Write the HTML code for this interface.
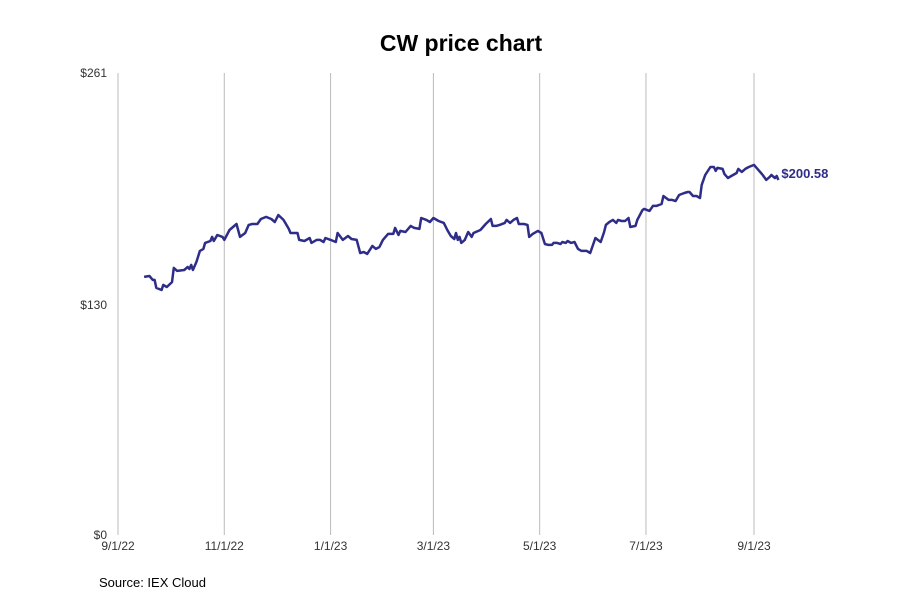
<!DOCTYPE html>
<html><head><meta charset="utf-8"><style>
body{margin:0;background:#fff;}
svg text{font-family:"Liberation Sans","DejaVu Sans",sans-serif;}
</style></head><body>
<svg id="chart" width="900" height="600" xmlns="http://www.w3.org/2000/svg">
<text x="461" y="51" text-anchor="middle" font-size="23" font-weight="bold" fill="#000">CW price chart</text>
<g id="grid"></g><g id="axes"></g><g id="series"></g>
<text x="99" y="587" font-size="13" fill="#000">Source: IEX Cloud</text>
</svg>
<script>
const tickDays=[0,61,122,181,242,303,365];
const tickLabels=["9/1/22","11/1/22","1/1/23","3/1/23","5/1/23","7/1/23","9/1/23"];
const yTicks=[0,130,261];
const yTickLabels=["$0","$130","$261"];
const days=[15,18,20,21,22,25,26,28,31,32,34,38,40,41,42,43,45,47,49,50,53,54,55,57,60,61,64,68,70,73,75,77,80,82,85,88,90,92,95,98,99,103,104,107,110,111,114,116,118,119,122,125,126,129,132,134,137,139,141,143,146,148,150,152,155,158,159,161,162,165,166,168,170,173,174,177,179,181,184,187,189,191,193,194,195,196,197,199,201,203,204,208,211,214,215,217,219,222,223,225,227,229,230,233,235,236,238,241,243,245,247,249,250,252,254,255,257,258,260,262,264,266,269,271,274,277,279,280,282,284,286,287,289,291,293,294,297,298,301,302,305,307,309,312,313,316,318,320,322,325,327,328,330,332,334,335,337,340,342,343,344,347,348,350,352,355,356,358,360,362,365,367,370,372,374,375,377,378,379];
const prices=[145.8,146.3,144.1,144.1,139.6,138.4,141.3,140.1,142.9,150.9,149.2,149.7,151.4,150.3,152.6,149.7,154.2,160.5,161.6,165.0,166.1,168.4,166.1,169.5,168.4,166.7,172.3,175.7,168.4,170.6,175.2,175.7,175.7,178.5,179.7,178.5,176.8,180.8,178.0,172.9,170.6,170.6,166.7,166.1,167.8,165.0,166.7,166.7,165.5,167.8,166.7,165.5,170.6,166.7,168.9,167.2,166.7,159.3,159.9,158.8,163.3,161.6,162.7,166.7,170.1,170.1,173.5,169.5,171.8,171.2,172.3,174.6,173.5,172.9,179.1,178.0,176.8,179.1,177.4,176.3,172.3,168.9,167.2,170.6,166.7,168.4,165.0,166.7,171.2,168.4,170.6,172.3,175.7,178.5,174.6,174.6,175.2,176.3,178.0,176.3,178.0,179.1,175.7,175.7,175.2,168.4,170.1,171.8,170.6,164.4,163.9,163.9,165.0,165.0,164.4,165.5,165.0,166.1,165.0,165.5,161.6,160.5,160.5,159.3,167.8,165.5,171.2,175.2,176.8,178.0,176.3,178.0,177.4,177.4,179.1,174.0,174.6,178.0,183.6,184.2,183.1,185.9,185.9,187.0,191.5,189.3,189.3,188.7,192.1,193.2,193.8,193.8,191.5,191.5,190.4,197.8,203.4,207.9,207.9,205.7,207.4,206.8,204.0,201.7,202.8,204.5,206.8,205.1,206.8,207.9,209.1,206.8,203.4,200.6,202.3,203.4,201.7,202.8,200.58];
const lastLabel="$200.58";
const NS="http://www.w3.org/2000/svg";
const X0=118,X1=754,Y0=535,Y1=73;
const xs=d=>X0+d/365*(X1-X0);
const ys=v=>Y0-v/261*(Y0-Y1);
function mk(tag,attrs,parent){const e=document.createElementNS(NS,tag);for(const k in attrs)e.setAttribute(k,attrs[k]);parent.appendChild(e);return e;}
const grid=document.getElementById('grid'),axes=document.getElementById('axes'),ser=document.getElementById('series');
tickDays.forEach((d,i)=>{
 const l=mk('line',{x1:xs(d),x2:xs(d),y1:Y1,y2:Y0,stroke:'#bbb','stroke-width':1},grid);
 
 
 const t=mk('text',{x:xs(d),y:550,'text-anchor':'middle','font-size':12,fill:'#333'},axes);
 t.textContent=tickLabels[i];
 
 
});
yTicks.forEach((v,i)=>{
 const t=mk('text',{x:107,y:ys(v)+4,'text-anchor':'end','font-size':12,fill:'#333'},axes);
 t.textContent=yTickLabels[i];
 
 
});
const p=mk('path',{d:days.map((d,i)=>(i?'L':'M')+xs(d).toFixed(1)+','+ys(prices[i]).toFixed(1)).join(''),fill:'none',stroke:'#2e2d88','stroke-width':2.5,'stroke-linejoin':'round'},ser);


const n=days.length-1;
const lt=mk('text',{x:xs(days[n])+3,y:ys(prices[n])-2,'font-size':13,'font-weight':'bold',fill:'#2e2d88'},ser);
lt.textContent=lastLabel;


</script>
</body></html>
